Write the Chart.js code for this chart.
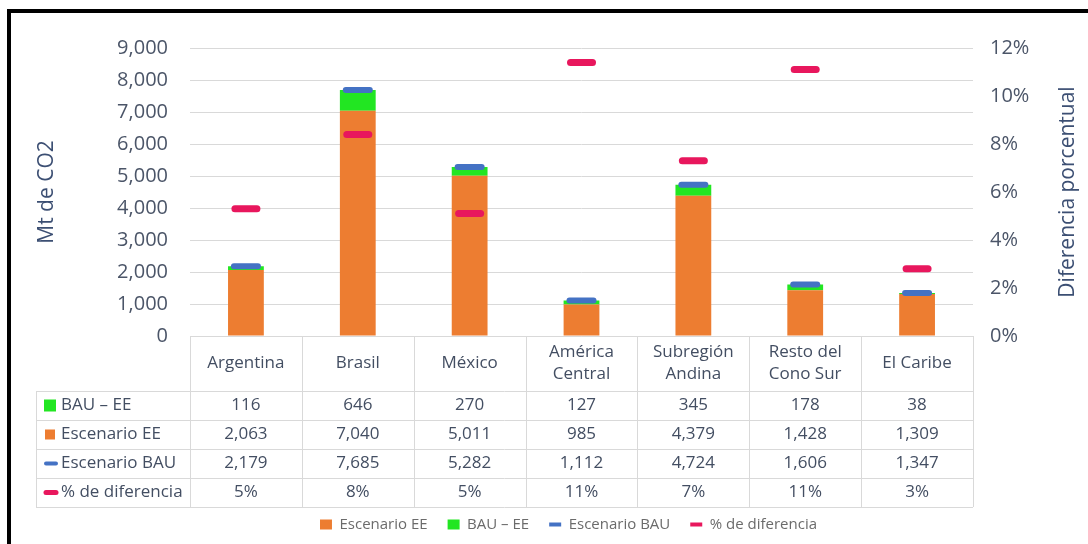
<!DOCTYPE html>
<html>
<head>
<meta charset="utf-8">
<script src="https://cdn.jsdelivr.net/npm/chart.js@4.4.1/dist/chart.umd.min.js"></script>
<style>
  html, body { margin: 0; padding: 0; background: #ffffff; }
  #wrap { position: relative; width: 1088px; height: 544px; }
</style>
</head>
<body>
<div id="wrap"><canvas id="c" width="1088" height="544"></canvas></div>
<script>
// Emisiones acumuladas por región (Mt de CO2) y diferencia porcentual
const categories   = ['Argentina', 'Brasil', 'México', ['América', 'Central'], ['Subregión', 'Andina'], ['Resto del', 'Cono Sur'], 'El Caribe'];
const bauMinusEE   = [116, 646, 270, 127, 345, 178, 38];
const escenarioEE  = [2063, 7040, 5011, 985, 4379, 1428, 1309];
const escenarioBAU = [2179, 7685, 5282, 1112, 4724, 1606, 1347];
const pctDiff      = [5.3, 8.4, 5.1, 11.4, 7.3, 11.1, 2.8];
const mtTicks      = [0, 1000, 2000, 3000, 4000, 5000, 6000, 7000, 8000, 9000];
const pctTicks     = [0, 2, 4, 6, 8, 10, 12];

const C_ORANGE = '#ED7D31';
const C_GREEN  = '#22E622';
const C_BLUE   = '#4472C4';
const C_PINK   = '#E8175D';
const FONT = "'Open Sans', 'DejaVu Sans', sans-serif";
const TXT_TICK  = '#4b5568';
const TXT_TITLE = '#3c4f73';
const TXT_TABLE = '#434e62';

const fmtMt  = v => Number(v).toLocaleString('en-US');
const fmtPct = v => Math.round(v) + '%';

const tableRows = [
  { label: 'BAU – EE',        values: bauMinusEE,   fmt: fmtMt,  marker: 'square', size: 12, color: C_GREEN },
  { label: 'Escenario EE',    values: escenarioEE,  fmt: fmtMt,  marker: 'square', size: 10, color: C_ORANGE },
  { label: 'Escenario BAU',   values: escenarioBAU, fmt: fmtMt,  marker: 'dash',   size: 4,  color: C_BLUE },
  { label: '% de diferencia', values: pctDiff,      fmt: fmtPct, marker: 'dash',   size: 5,  color: C_PINK }
];

// Round ends for the short dash markers of the line datasets
const roundCaps = {
  id: 'roundCaps',
  beforeDatasetDraw(chart, args) {
    if (args.meta.type === 'line') { chart.ctx.save(); chart.ctx.lineCap = 'round'; }
  },
  afterDatasetDraw(chart, args) {
    if (args.meta.type === 'line') { chart.ctx.restore(); }
  }
};

// Nudge the legend row slightly right of the canvas centre
const legendOffset = {
  id: 'legendOffset',
  afterLayout(chart) {
    if (chart.legend) { chart.legend.left += 12; chart.legend.right += 12; }
  }
};

// Data table under the category axis, right-axis title and frame
const dataTable = {
  id: 'dataTable',
  afterDraw(chart) {
    const { ctx, chartArea } = chart;
    const xs = chart.scales.x;
    const n = categories.length;
    const colW = (chartArea.right - chartArea.left) / n;
    const top = chartArea.bottom;
    const headBottom = top + 55;
    const rowH = 29;
    const bottom = headBottom + rowH * tableRows.length;
    const labelLeft = 36;

    ctx.save();
    // grid of the table
    ctx.strokeStyle = '#d9d9d9';
    ctx.lineWidth = 1;
    ctx.beginPath();
    ctx.moveTo(chartArea.left, Math.round(top) + 0.5);
    ctx.lineTo(chartArea.right, Math.round(top) + 0.5);
    for (let r = 0; r <= tableRows.length; r++) {
      const y = Math.round(headBottom + r * rowH) + 0.5;
      ctx.moveTo(labelLeft, y);
      ctx.lineTo(chartArea.right, y);
    }
    for (let i = 0; i <= n; i++) {
      const cx = i < n ? xs.getPixelForValue(i) - colW / 2 : xs.getPixelForValue(n - 1) + colW / 2;
      const xx = Math.round(cx) + 0.5;
      ctx.moveTo(xx, top);
      ctx.lineTo(xx, bottom);
    }
    ctx.moveTo(labelLeft + 0.5, headBottom);
    ctx.lineTo(labelLeft + 0.5, bottom);
    ctx.stroke();

    // header: category names
    ctx.fillStyle = TXT_TABLE;
    ctx.font = '17px ' + FONT;
    ctx.textAlign = 'center';
    ctx.textBaseline = 'middle';
    const headMid = (top + headBottom) / 2;
    categories.forEach((c, i) => {
      const lines = Array.isArray(c) ? c : [c];
      const lh = 22;
      const y0 = headMid - (lines.length - 1) * lh / 2;
      lines.forEach((t, k) => ctx.fillText(t, xs.getPixelForValue(i), y0 + k * lh));
    });

    // body rows
    tableRows.forEach((row, r) => {
      const yMid = headBottom + r * rowH + rowH / 2;
      // legend key
      ctx.fillStyle = row.color;
      if (row.marker === 'square') {
        ctx.fillRect(50 - row.size / 2, yMid - row.size / 2, row.size, row.size);
      } else {
        ctx.strokeStyle = row.color;
        ctx.lineWidth = row.size;
        ctx.lineCap = 'round';
        ctx.beginPath();
        ctx.moveTo(46, yMid);
        ctx.lineTo(56, yMid);
        ctx.stroke();
      }
      ctx.fillStyle = TXT_TABLE;
      ctx.textAlign = 'left';
      ctx.fillText(row.label, 61, yMid);
      ctx.textAlign = 'center';
      row.values.forEach((v, i) => ctx.fillText(row.fmt(v), xs.getPixelForValue(i), yMid));
    });

    // right axis title, reading upwards
    ctx.fillStyle = TXT_TITLE;
    ctx.font = '21px ' + FONT;
    ctx.translate(1068, (chartArea.top + chartArea.bottom) / 2);
    ctx.rotate(-Math.PI / 2);
    ctx.textAlign = 'center';
    ctx.textBaseline = 'middle';
    ctx.fillText('Diferencia porcentual', 0, 0);
    ctx.restore();

    // frame
    ctx.save();
    ctx.fillStyle = '#000000';
    ctx.fillRect(7, 9, 1081, 4);
    ctx.fillRect(7, 9, 4, 535);
    ctx.restore();
  }
};

Chart.defaults.font.family = FONT;

new Chart(document.getElementById('c'), {
  data: {
    labels: categories,
    datasets: [
      { type: 'bar',  label: 'Escenario EE',    data: escenarioEE, backgroundColor: C_ORANGE, stack: 'ee', order: 2,
        barPercentage: 0.32, categoryPercentage: 1 },
      { type: 'bar',  label: 'BAU – EE',        data: bauMinusEE,  backgroundColor: C_GREEN,  stack: 'ee', order: 2,
        barPercentage: 0.32, categoryPercentage: 1 },
      { type: 'line', label: 'Escenario BAU',   data: escenarioBAU, yAxisID: 'y', stack: 'bau', order: 1,
        showLine: false, borderColor: C_BLUE, backgroundColor: C_BLUE,
        pointStyle: 'line', pointRadius: 12, pointBorderWidth: 6, borderWidth: 6, clip: false },
      { type: 'line', label: '% de diferencia', data: pctDiff, yAxisID: 'y2', order: 0,
        showLine: false, borderColor: C_PINK, backgroundColor: C_PINK,
        pointStyle: 'line', pointRadius: 11, pointBorderWidth: 7, borderWidth: 7, clip: false }
    ]
  },
  options: {
    responsive: false,
    animation: false,
    events: [],
    layout: { padding: { left: 25, right: 0, top: 48, bottom: 2 } },
    plugins: {
      tooltip: { enabled: false },
      legend: {
        position: 'bottom',
        labels: {
          usePointStyle: true,
          pointStyleWidth: 12,
          boxHeight: 10,
          padding: 20,
          color: '#6b6b6b',
          font: { size: 15, family: FONT },
          sort: (a, b) => a.datasetIndex - b.datasetIndex,
          generateLabels(chart) {
            const items = Chart.defaults.plugins.legend.labels.generateLabels(chart);
            items.forEach(it => {
              const ds = chart.data.datasets[it.datasetIndex];
              if (ds.type === 'line') { it.pointStyle = 'line'; it.lineWidth = 4; it.strokeStyle = ds.borderColor; }
              else { it.pointStyle = 'rect'; it.lineWidth = 0; }
            });
            return items;
          }
        }
      }
    },
    scales: {
      x: {
        stacked: true,
        display: true,
        grid: { display: false },
        border: { display: false },
        ticks: { display: false },
        afterFit(scale) { scale.height = 161; }
      },
      y: {
        stacked: true,
        position: 'left',
        min: mtTicks[0],
        max: mtTicks[mtTicks.length - 1],
        afterBuildTicks(scale) { scale.ticks = mtTicks.map(v => ({ value: v })); },
        grid: { color: '#d9d9d9', lineWidth: 1, drawTicks: false },
        border: { display: false },
        ticks: { padding: 22, color: TXT_TICK, font: { size: 20 }, callback: v => fmtMt(v) },
        title: { display: true, text: 'Mt de CO2', color: TXT_TITLE, font: { size: 21 }, padding: { top: 9, bottom: 0 } },
        afterFit(scale) { scale.width = 165; }
      },
      y2: {
        position: 'right',
        min: pctTicks[0],
        max: pctTicks[pctTicks.length - 1],
        afterBuildTicks(scale) { scale.ticks = pctTicks.map(v => ({ value: v })); },
        grid: { drawOnChartArea: false, drawTicks: false },
        border: { display: false },
        ticks: { padding: 17, color: TXT_TICK, font: { size: 20 }, callback: v => v + '%' },
        afterFit(scale) { scale.width = 115; }
      }
    }
  },
  plugins: [roundCaps, legendOffset, dataTable]
});
</script>
</body>
</html>
